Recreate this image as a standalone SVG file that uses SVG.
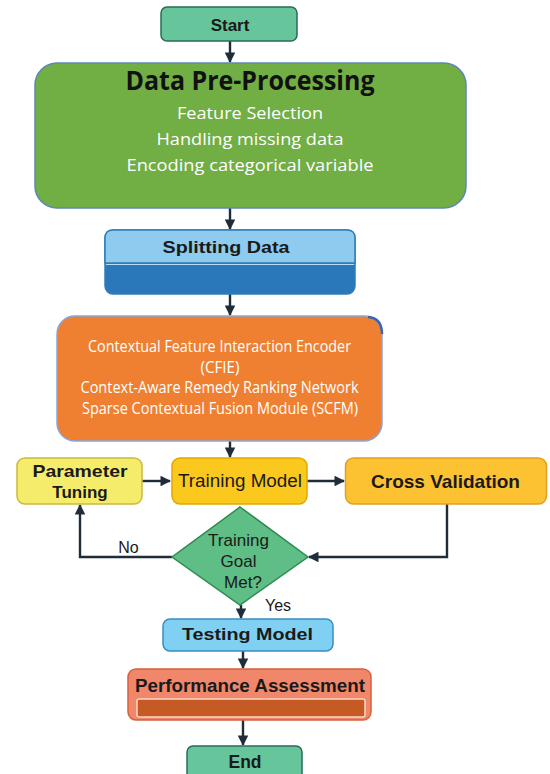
<svg xmlns="http://www.w3.org/2000/svg" width="550" height="774" viewBox="0 0 550 774">
<defs>
<marker id="ah" viewBox="0 0 10 10" refX="9" refY="5" markerWidth="4.4" markerHeight="4.4" orient="auto" markerUnits="strokeWidth">
<path d="M0,0 L10,5 L0,10 z" fill="#1f2d3a"/>
</marker>
<style>
.c{fill:none;stroke:#1f2d3a;stroke-width:2.4;marker-end:url(#ah)}
.lbl{font-family:"Liberation Sans",Arial,sans-serif;fill:#1a1a1a;text-anchor:middle}
.b{font-weight:bold}
.w{font-family:"Open Sans","Noto Sans",sans-serif;fill:#ffffff;text-anchor:middle}
</style>
</defs>
<rect width="550" height="774" fill="#ffffff"/>
<g id="connectors">
<line class="c" x1="230" y1="41" x2="230" y2="62"/>
<line class="c" x1="230" y1="208" x2="230" y2="229"/>
<line class="c" x1="230" y1="294" x2="230" y2="315"/>
<line class="c" x1="230" y1="441" x2="230" y2="457"/>
<line class="c" x1="142" y1="481" x2="170" y2="481"/>
<line class="c" x1="307" y1="481" x2="344" y2="481"/>
<polyline class="c" points="172,557 80,557 80,505"/>
<polyline class="c" points="447,504 447,557 309,557"/>
<line class="c" x1="241" y1="605" x2="241" y2="618"/>
<line class="c" x1="243" y1="651" x2="243" y2="668"/>
<line class="c" x1="243" y1="720" x2="243" y2="745"/>
<text class="lbl" x="128.5" y="553" font-size="16">No</text>
<text class="lbl" x="278" y="611" font-size="16">Yes</text>
</g>
<g id="start">
<rect x="161" y="7" width="136" height="34" rx="6" fill="#66c59a" stroke="#2b6b58" stroke-width="1.5"/>
<text class="lbl b" x="230" y="31" font-size="17">Start</text>
</g>
<g id="preprocessing">
<rect x="35" y="63" width="431" height="145" rx="22" fill="#71ae44" stroke="#5d86b8" stroke-width="1.5"/>
<text x="250" y="90" font-family="'Open Sans','Noto Sans',sans-serif" font-weight="bold" font-size="26" fill="#111111" text-anchor="middle" textLength="249" lengthAdjust="spacingAndGlyphs">Data Pre-Processing</text>
<text class="w" x="250" y="119" font-size="17" textLength="146" lengthAdjust="spacingAndGlyphs">Feature Selection</text>
<text class="w" x="250" y="145" font-size="17" textLength="187" lengthAdjust="spacingAndGlyphs">Handling missing data</text>
<text class="w" x="250" y="171" font-size="17" textLength="247" lengthAdjust="spacingAndGlyphs">Encoding categorical variable</text>
</g>
<g id="splitting">
<rect x="105" y="230" width="250" height="64" rx="8" fill="#2a77ba" stroke="#2f7fb5" stroke-width="1.5"/>
<path d="M105,263 L105,238 Q105,230 113,230 L347,230 Q355,230 355,238 L355,263 Z" fill="#8fcbee" stroke="#2f7fb5" stroke-width="1.5"/>
<line x1="106" y1="264.5" x2="354" y2="264.5" stroke="#b8def4" stroke-width="1"/>
<text class="lbl b" x="226" y="253" font-size="17" textLength="127" lengthAdjust="spacingAndGlyphs">Splitting Data</text>
</g>
<g id="model">
<rect x="57" y="316" width="325" height="125" rx="18" fill="#ef7f31" stroke="#8aa6d6" stroke-width="1.5"/>
<path d="M368,317 Q382,318 382,334" fill="none" stroke="#3e62b8" stroke-width="2.5"/>
<text class="w" x="219.5" y="352" font-size="16" textLength="263" lengthAdjust="spacingAndGlyphs">Contextual Feature Interaction Encoder</text>
<text class="w" x="220" y="373" font-size="16" textLength="39" lengthAdjust="spacingAndGlyphs">(CFIE)</text>
<text class="w" x="219.5" y="393" font-size="16" textLength="278" lengthAdjust="spacingAndGlyphs">Context-Aware Remedy Ranking Network</text>
<text class="w" x="220" y="414" font-size="16" textLength="276" lengthAdjust="spacingAndGlyphs">Sparse Contextual Fusion Module (SCFM)</text>
</g>
<g id="parameter-tuning">
<rect x="17" y="458" width="125" height="46" rx="8" fill="#f6ec6c" stroke="#c9b93a" stroke-width="1.5"/>
<text class="lbl b" x="80" y="477" font-size="17" textLength="95" lengthAdjust="spacingAndGlyphs">Parameter</text>
<text class="lbl b" x="80" y="498" font-size="17">Tuning</text>
</g>
<g id="training-model">
<rect x="172" y="458" width="135" height="46" rx="8" fill="#fbc81e" stroke="#e0a800" stroke-width="1.5"/>
<text class="lbl" x="240" y="487" font-size="17.5" textLength="124" lengthAdjust="spacingAndGlyphs">Training Model</text>
</g>
<g id="cross-validation">
<rect x="345.5" y="458" width="201" height="46" rx="8" fill="#fcc232" stroke="#e0a020" stroke-width="1.5"/>
<text class="lbl b" x="445.5" y="488" font-size="18.5" textLength="149" lengthAdjust="spacingAndGlyphs">Cross Validation</text>
</g>
<g id="decision">
<polygon points="240,507 308,557 240,605 172,557" fill="#5ebe85" stroke="#2f8a50" stroke-width="1.5"/>
<text class="lbl" x="238.5" y="546" font-size="17">Training</text>
<text class="lbl" x="238.5" y="567" font-size="17">Goal</text>
<text class="lbl" x="243" y="588" font-size="17">Met?</text>
</g>
<g id="testing-model">
<rect x="163" y="619" width="170" height="32" rx="7" fill="#7fd0f3" stroke="#3a8dbf" stroke-width="1.5"/>
<text class="lbl b" x="247.5" y="640" font-size="17" textLength="131" lengthAdjust="spacingAndGlyphs">Testing Model</text>
</g>
<g id="performance">
<rect x="128" y="669" width="243" height="51" rx="8" fill="#f0876a" stroke="#d8603f" stroke-width="1.5"/>
<text class="lbl b" x="250" y="692" font-size="17.5" textLength="230" lengthAdjust="spacingAndGlyphs">Performance Assessment</text>
<rect x="137" y="699" width="228" height="18" rx="2" fill="#c65a25" stroke="#f7d6c6" stroke-width="1.5"/>
</g>
<g id="end">
<rect x="187" y="746" width="115" height="34" rx="6" fill="#66c59a" stroke="#2b6b58" stroke-width="1.5"/>
<text class="lbl b" x="245" y="768" font-size="17.5">End</text>
</g>
</svg>
